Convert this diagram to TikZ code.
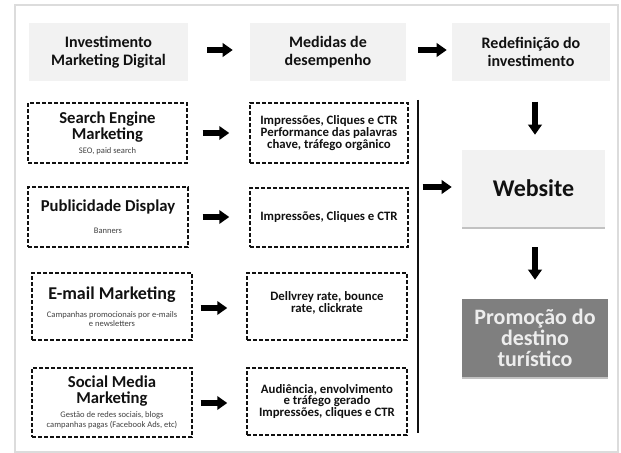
\documentclass[tikz,border=0pt]{standalone}
\usepackage{fontspec}
\setmainfont{Carlito}
\usetikzlibrary{arrows.meta,calc,shadows}
\definecolor{lightbox}{HTML}{F2F2F2}
\definecolor{darkbox}{HTML}{7F7F7F}
\definecolor{framegray}{HTML}{DCDCDC}
\definecolor{ink}{HTML}{111111}
\definecolor{promotext}{HTML}{EDEDED}
\newcommand\lbtitle{\fontsize{12.5}{12}\selectfont\bfseries}
\newcommand\lbsub{\fontsize{6.4}{7}\selectfont\mdseries\color{black!75}}
\begin{document}
\begin{tikzpicture}[x=0.75pt,y=-0.75pt,
  topbox/.style={fill=lightbox, inner sep=0pt, minimum height=43.5pt, align=center,
    font=\fontsize{12}{13.5}\selectfont\bfseries, text=ink},
  dbox/.style={draw=ink, dash pattern=on 3pt off 1.5pt, line width=1.1pt, inner sep=0pt,
    align=flush center, text=ink},
  mtext/.style={font=\fontsize{9.6}{8.8}\selectfont\bfseries},
  barrow/.style={line width=4.5pt, -{Triangle[width=10pt,length=7.5pt]}, draw=black},
  shade/.style={drop shadow={shadow xshift=0.3pt, shadow yshift=-1.5pt, fill=black!40, opacity=0.6}},
]
\useasboundingbox (0,0) rectangle (621,453);
\draw[framegray, line width=1pt] (15,5) rectangle (618,452);

% top row
\node[topbox, minimum width=119.25pt] (inv) at (108.5,52) {Investimento\\Marketing Digital};
\node[topbox, minimum width=117pt] (med) at (328,52) {Medidas de\\desempenho};
\node[topbox, minimum width=118.5pt] (red) at (531,52) {Redefinição do\\investimento};

% left column
\node[dbox, text width=119.25pt, minimum height=45pt] (sem) at (107.5,133)
  {\lbtitle Search Engine\\Marketing\par\vspace{3.5pt}\lbsub SEO, paid search\par};
\node[dbox, text width=120pt, minimum height=45pt] (pub) at (108,217)
  {\lbtitle Publicidade Display\par\vspace{9.5pt}\lbsub Banners\par};
\node[dbox, text width=120pt, minimum height=50.25pt] (email) at (112,306.5)
  {\fontsize{13.5}{13}\selectfont\bfseries E-mail Marketing\par\vspace{6.5pt}\lbsub Campanhas promocionais por e-mails\\e newsletters\par};
\node[dbox, text width=120pt, minimum height=51.75pt] (social) at (112,402.5)
  {\lbtitle Social Media\\Marketing\par\vspace{3.5pt}\lbsub Gestão de redes sociais, blogs\\campanhas pagas (Facebook Ads, etc)\par};

% middle column
\node[dbox, mtext, text width=118.5pt, minimum height=45pt] (m1) at (329,133)
  {Impressões, Cliques e CTR\\Performance das palavras\\chave, tráfego orgânico};
\node[dbox, mtext, text width=118.5pt, minimum height=44.25pt] (m2) at (329,217.5)
  {Impressões, Cliques e CTR};
\node[dbox, mtext, text width=120pt, minimum height=50.25pt] (m3) at (327,306.5)
  {Dellvrey rate, bounce\\rate, clickrate\par\vspace{5pt}};
\node[dbox, mtext, text width=120pt, minimum height=50.25pt] (m4) at (327,401.5)
  {Audiência, envolvimento\\e tráfego gerado\\Impressões, cliques e CTR};

% right column
\node[fill=lightbox, shade, inner sep=0pt, minimum width=107.25pt, minimum height=57.75pt,
  text=ink, font=\fontsize{18}{20}\selectfont\bfseries] (web) at (533.5,188.5) {Website};
\node[fill=darkbox, shade, inner sep=0pt, minimum width=109.5pt, minimum height=58.5pt,
  align=center, text=promotext, font=\fontsize{16.5}{16}\selectfont\bfseries] (promo) at (535,338)
  {Promoção do\\destino\\turístico};

% vertical line
\coordinate (vtop) at (418,100);
\coordinate (vbot) at (418,433);
\draw[line width=1.5pt, ink] (vtop) -- (vbot);

% arrows
\draw[barrow] ($(inv.east)+(19,-2)$) -- ($(med.west)+(-17,-2)$);
\draw[barrow] ($(med.east)+(12,-2)$) -- ($(red.west)+(-5,-2)$);
\draw[barrow] ($(sem.east)+(15,0)$) -- ($(m1.west)+(-20,0)$);
\draw[barrow] ($(pub.east)+(14,0)$) -- ($(m2.west)+(-20,-0.5)$);
\draw[barrow] ($(email.east)+(8,1.5)$) -- ($(m3.west)+(-19,1.5)$);
\draw[barrow] ($(social.east)+(8,0.5)$) -- ($(m4.west)+(-19,1.5)$);
\draw[barrow] ($(web.west)+(-39,-1.5)$) -- ($(web.west)+(-10,-1.5)$);
\draw[barrow] ($(web.north)+(1.5,-48)$) -- ($(web.north)+(1.5,-15)$);
\draw[barrow] ($(web.south)+(1.5,20)$) -- ($(promo.north)+(0,-19)$);
\end{tikzpicture}
\end{document}
